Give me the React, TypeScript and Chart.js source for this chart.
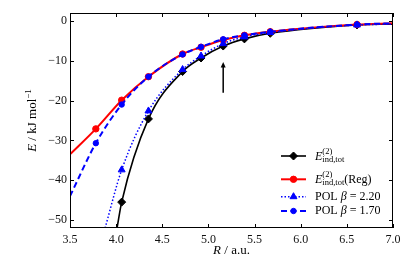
import React, { useEffect, useRef } from 'react';
import { Chart, registerables } from 'chart.js';

Chart.register(...registerables);

// ---- data ----
const R_POINTS = [3.78, 4.06, 4.35, 4.72, 4.92, 5.16, 5.39, 5.67, 6.61];
const E_IND_TOT: (number | null)[] = [null, -45.5, -24.6, -12.7, -9.3, -6.3, -4.5, -3.1, -1.0];
const E_IND_TOT_REG: (number | null)[] = [-27.1, -19.9, -14.0, -8.3, -6.6, -4.8, -3.6, -2.7, -0.9];
const POL_BETA_220: (number | null)[] = [null, -37.4, -22.6, -12.2, -8.8, -5.7, -4.0, -2.9, -1.0];
const POL_BETA_170: (number | null)[] = [-30.7, -21.0, -14.0, -8.4, -6.5, -4.6, -3.6, -2.7, -0.9];

// where each fitted curve enters / leaves the plotting box
const E_IND_TOT_CURVE_ENDS = [[4.01, -52.0], [7.0, -0.8]];
const E_IND_TOT_REG_CURVE_ENDS = [[3.5, -33.5], [7.0, -0.6]];
const POL_BETA_220_CURVE_ENDS = [[3.88, -52.0], [7.0, -0.8]];
const POL_BETA_170_CURVE_ENDS = [[3.5, -44.0], [7.0, -0.6]];

const X_TICKS = [3.5, 4.0, 4.5, 5.0, 5.5, 6.0, 6.5, 7.0];
const X_TICK_LABELS = ['3.5', '4.0', '4.5', '5.0', '5.5', '6.0', '6.5', '7.0'];
const Y_TICKS = [0, -10, -20, -30, -40, -50];
const Y_TICK_LABELS = ['0', '\u221210', '\u221220', '\u221230', '\u221240', '\u221250'];

const ARROW_R = 5.16;
const ARROW_FROM = -18.0;
const ARROW_TO = -10.3;

const FONT = '"Liberation Serif", "DejaVu Serif", serif';
const BLACK = '#000000';
const RED = '#ff0000';
const BLUE = '#0000ff';

type Pt = { x: number; y: number };

function markers(ys: (number | null)[]): Pt[] {
  const out: Pt[] = [];
  R_POINTS.forEach((x, i) => {
    const y = ys[i];
    if (y !== null) out.push({ x, y });
  });
  return out;
}

function curve(ends: number[][], ys: (number | null)[]): Pt[] {
  return [{ x: ends[0][0], y: ends[0][1] }, ...markers(ys), { x: ends[1][0], y: ends[1][1] }];
}

type Seg =
  | { t: string; italic?: boolean; size: number; dy?: number }
  | { sup: string; sub: string; size: number; supDy: number; subDy: number };

function fontStr(size: number, italic?: boolean) {
  return `${italic ? 'italic ' : ''}${size}px ${FONT}`;
}

function drawRich(ctx: CanvasRenderingContext2D, segs: Seg[], x: number, y: number, align: 'left' | 'center') {
  const widths: number[] = segs.map((s) => {
    if ('sup' in s) {
      ctx.font = fontStr(s.size);
      return Math.max(ctx.measureText(s.sup).width, ctx.measureText(s.sub).width);
    }
    ctx.font = fontStr(s.size, s.italic);
    return ctx.measureText(s.t).width;
  });
  const total = widths.reduce((a, b) => a + b, 0);
  let cx = align === 'center' ? x - total / 2 : x;
  ctx.textAlign = 'left';
  ctx.textBaseline = 'alphabetic';
  segs.forEach((s, i) => {
    if ('sup' in s) {
      ctx.font = fontStr(s.size);
      ctx.fillText(s.sup, cx, y + s.supDy);
      ctx.fillText(s.sub, cx, y + s.subDy);
    } else {
      ctx.font = fontStr(s.size, s.italic);
      ctx.fillText(s.t, cx, y + (s.dy || 0));
    }
    cx += widths[i];
  });
}

function drawMarker(ctx: CanvasRenderingContext2D, style: string, x: number, y: number, r: number, color: string) {
  ctx.save();
  ctx.fillStyle = color;
  ctx.strokeStyle = color;
  ctx.setLineDash([]);
  ctx.lineWidth = 1;
  ctx.beginPath();
  if (style === 'rectRot') {
    ctx.moveTo(x, y - r);
    ctx.lineTo(x + r, y);
    ctx.lineTo(x, y + r);
    ctx.lineTo(x - r, y);
    ctx.closePath();
  } else if (style === 'triangle') {
    ctx.moveTo(x, y - r);
    ctx.lineTo(x + r * 0.866, y + r * 0.5);
    ctx.lineTo(x - r * 0.866, y + r * 0.5);
    ctx.closePath();
  } else {
    ctx.arc(x, y, r, 0, Math.PI * 2);
  }
  ctx.fill();
  ctx.stroke();
  ctx.restore();
}

const framePlugin = {
  id: 'frame',
  afterDraw(chart: any) {
    const ctx: CanvasRenderingContext2D = chart.ctx;
    const { left, right, top, bottom } = chart.chartArea;
    const xs = chart.scales.x;
    const ys = chart.scales.y;
    ctx.save();
    ctx.strokeStyle = '#000';
    ctx.lineWidth = 1;
    ctx.setLineDash([]);
    ctx.strokeRect(left + 0.5, top + 0.5, right - left - 1, bottom - top - 1);
    const tl = 4;
    ctx.beginPath();
    X_TICKS.forEach((v) => {
      const px = Math.round(xs.getPixelForValue(v)) + 0.5;
      ctx.moveTo(px, bottom);
      ctx.lineTo(px, bottom - tl);
      ctx.moveTo(px, top);
      ctx.lineTo(px, top + tl);
    });
    Y_TICKS.forEach((v) => {
      const py = Math.round(ys.getPixelForValue(v)) + 0.5;
      ctx.moveTo(left, py);
      ctx.lineTo(left + tl, py);
      ctx.moveTo(right, py);
      ctx.lineTo(right - tl, py);
    });
    ctx.stroke();

    // arrow
    const ax = xs.getPixelForValue(ARROW_R);
    const ay0 = ys.getPixelForValue(ARROW_FROM);
    const ay1 = ys.getPixelForValue(ARROW_TO);
    ctx.lineWidth = 1.5;
    ctx.beginPath();
    ctx.moveTo(ax, ay0);
    ctx.lineTo(ax, ay1 + 4);
    ctx.stroke();
    ctx.fillStyle = '#000';
    ctx.beginPath();
    ctx.moveTo(ax, ay1);
    ctx.lineTo(ax + 2.5, ay1 + 5.5);
    ctx.lineTo(ax - 2.5, ay1 + 5.5);
    ctx.closePath();
    ctx.fill();

    // axis titles
    ctx.fillStyle = '#000';
    drawRich(
      ctx,
      [
        { t: 'R', italic: true, size: 13 },
        { t: ' / a.u.', size: 13 },
      ],
      (left + right) / 2,
      254,
      'center'
    );
    ctx.save();
    ctx.translate(35.5, (top + bottom) / 2);
    ctx.rotate(-Math.PI / 2);
    drawRich(
      ctx,
      [
        { t: 'E', italic: true, size: 13 },
        { t: ' / kJ mol', size: 13 },
        { t: '\u22121', size: 9, dy: -5 },
      ],
      0,
      0,
      'center'
    );
    ctx.restore();

    // legend
    const entries = [
      { color: BLACK, dash: [] as number[], width: 1.6, marker: 'rectRot', r: 4, ly: 156, ty: 159.5, reg: false, pol: '' },
      { color: RED, dash: [] as number[], width: 2, marker: 'circle', r: 3.2, ly: 179.3, ty: 182.8, reg: true, pol: '' },
      { color: BLUE, dash: [1.5, 2], width: 1.5, marker: 'triangle', r: 4, ly: 196.7, ty: 199.8, reg: false, pol: '2.20' },
      { color: BLUE, dash: [6, 3.5], width: 2, marker: 'circle', r: 2.7, ly: 211, ty: 214, reg: false, pol: '1.70' },
    ];
    entries.forEach((e) => {
      ctx.save();
      ctx.strokeStyle = e.color;
      ctx.lineWidth = e.width;
      ctx.setLineDash(e.dash);
      ctx.beginPath();
      ctx.moveTo(281, e.ly);
      ctx.lineTo(306, e.ly);
      ctx.stroke();
      ctx.restore();
      drawMarker(ctx, e.marker, 293.5, e.ly, e.r, e.color);
      ctx.fillStyle = '#000';
      if (e.pol) {
        drawRich(
          ctx,
          [
            { t: 'POL ', size: 12 },
            { t: '\u03b2', italic: true, size: 12 },
            { t: ' = ' + e.pol, size: 12 },
          ],
          315,
          e.ty,
          'left'
        );
      } else {
        const segs: Seg[] = [
          { t: 'E', italic: true, size: 12 },
          { sup: '(2)', sub: 'ind,tot', size: 8.5, supDy: -6, subDy: 2.2 },
        ];
        if (e.reg) segs.push({ t: '(Reg)', size: 12 });
        drawRich(ctx, segs, 315, e.ty, 'left');
      }
    });
    ctx.restore();
  },
};

export default function App() {
  const ref = useRef<HTMLCanvasElement | null>(null);

  useEffect(() => {
    if (!ref.current) return;
    const lineDs = (data: Pt[], color: string, width: number, dash: number[], order: number) => ({
      data,
      showLine: true,
      borderColor: color,
      backgroundColor: color,
      borderWidth: width,
      borderDash: dash,
      pointRadius: 0,
      pointHoverRadius: 0,
      cubicInterpolationMode: 'monotone' as const,
      fill: false,
      order,
    });
    const markDs = (data: Pt[], color: string, style: string, r: number, order: number) => ({
      data,
      showLine: false,
      pointStyle: style,
      pointRadius: r,
      pointHoverRadius: r,
      pointBackgroundColor: color,
      pointBorderColor: color,
      pointBorderWidth: 1,
      order,
    });

    const chart = new Chart(ref.current, {
      type: 'scatter',
      data: {
        datasets: [
          lineDs(curve(E_IND_TOT_CURVE_ENDS, E_IND_TOT), BLACK, 1.6, [], 8),
          markDs(markers(E_IND_TOT), BLACK, 'rectRot', 4, 7),
          lineDs(curve(E_IND_TOT_REG_CURVE_ENDS, E_IND_TOT_REG), RED, 2, [], 6),
          markDs(markers(E_IND_TOT_REG), RED, 'circle', 3.2, 5),
          lineDs(curve(POL_BETA_220_CURVE_ENDS, POL_BETA_220), BLUE, 1.5, [1.5, 2], 4),
          markDs(markers(POL_BETA_220), BLUE, 'triangle', 4, 3),
          lineDs(curve(POL_BETA_170_CURVE_ENDS, POL_BETA_170), BLUE, 2, [6, 3.5], 2),
          markDs(markers(POL_BETA_170), BLUE, 'circle', 2.7, 1),
        ] as any,
      },
      options: {
        responsive: false,
        animation: false,
        events: [],
        layout: { padding: { top: 13, right: 22, left: 0, bottom: 0 } },
        plugins: { legend: { display: false }, tooltip: { enabled: false } },
        scales: {
          x: {
            type: 'linear',
            min: 3.5,
            max: 7.0,
            afterBuildTicks: (s: any) => {
              s.ticks = X_TICKS.map((v) => ({ value: v }));
            },
            afterFit: (s: any) => {
              s.height = 32;
            },
            grid: { display: false, drawTicks: false },
            border: { display: false },
            ticks: {
              padding: 5,
              autoSkip: false,
              maxRotation: 0,
              color: '#111',
              font: { family: FONT, size: 12 },
              callback: (_v: any, i: number) => X_TICK_LABELS[i],
            },
          },
          y: {
            type: 'linear',
            min: -52,
            max: 2,
            afterBuildTicks: (s: any) => {
              s.ticks = Y_TICKS.map((v) => ({ value: v }));
            },
            afterFit: (s: any) => {
              s.width = 70;
            },
            grid: { display: false, drawTicks: false },
            border: { display: false },
            ticks: {
              padding: 3,
              autoSkip: false,
              color: '#111',
              font: { family: FONT, size: 12 },
              callback: (_v: any, i: number) => Y_TICK_LABELS[i],
            },
          },
        },
      } as any,
      plugins: [framePlugin],
    });
    return () => chart.destroy();
  }, []);

  return (
    <div style={{ position: 'fixed', left: 0, top: 0, width: 415, height: 260, background: '#fff' }}>
      <canvas ref={ref} width={415} height={260} style={{ display: 'block', width: 415, height: 260 }} />
    </div>
  );
}
